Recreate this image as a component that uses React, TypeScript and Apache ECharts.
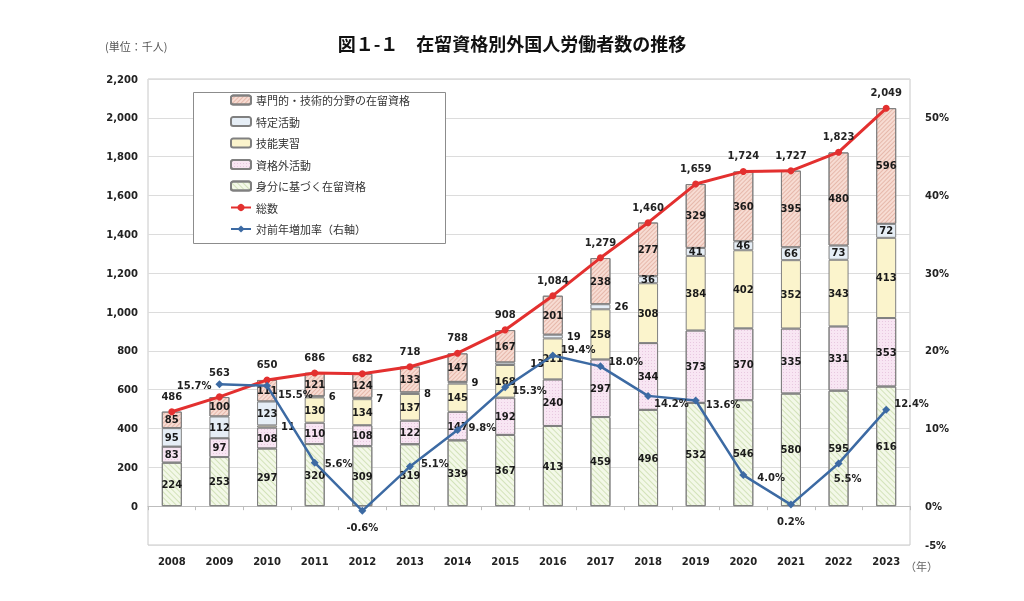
import React, { useEffect, useRef } from "react";
import * as echarts from "echarts";

const years = ["2008","2009","2010","2011","2012","2013","2014","2015","2016","2017","2018","2019","2020","2021","2022","2023"];
const mibun = [224,253,297,320,309,319,339,367,413,459,496,532,546,580,595,616];
const shikakugai = [83,97,108,110,108,122,147,192,240,297,344,373,370,335,331,353];
const ginou = [0,0,11,130,134,137,145,168,211,258,308,384,402,352,343,413];
const tokutei = [95,112,123,6,7,8,9,13,19,26,36,41,46,66,73,72];
const senmon = [85,100,111,121,124,133,147,167,201,238,277,329,360,395,480,596];
const totals = [486,563,650,686,682,718,788,908,1084,1279,1460,1659,1724,1727,1823,2049];
const growth = [null,15.7,15.5,5.6,-0.6,5.1,9.8,15.3,19.4,18.0,14.2,13.6,4.0,0.2,5.5,12.4];
const leftTicks = { min: -200, max: 2200, interval: 200 };
const rightTicks = { min: -5, max: 55, interval: 5 };

const NUM_FONT = "'DejaVu Sans', Verdana, sans-serif";
const JP_FONT = "'Noto Sans CJK JP', sans-serif";
const NUM_SIZE = 10;

const fmtComma = (v: number) => v.toLocaleString("en-US");

// label placement per growth point (style only)
const growthLabelStyle: any[] = [
  null,
  { position: "left", distance: 4, offset: [0, 1] },
  { position: "right", distance: 7, offset: [0, 9] },
  { position: "right", distance: 6, offset: [0, 1] },
  { position: "bottom", distance: 6, offset: [0, 2] },
  { position: "right", distance: 7, offset: [0, -3] },
  { position: "right", distance: 7, offset: [0, -3] },
  { position: "right", distance: 3, offset: [0, 3] },
  { position: "right", distance: 4, offset: [0, -6] },
  { position: "right", distance: 4, offset: [0, -5] },
  { position: "right", distance: 2, offset: [0, 8] },
  { position: "right", distance: 6, offset: [0, 4] },
  { position: "right", distance: 10, offset: [0, 2] },
  { position: "bottom", distance: 6, offset: [0, 2] },
  { position: "bottom", distance: 6, offset: [9, 0] },
  { position: "right", distance: 4, offset: [0, -6] },
];
const totalLabelOffset: number[] = [0,-9,0,0,0,0,0,0,0,0,0,0,0,0,0,0];
const smallLabelDistance: Record<number, number> = { 7: 15 };

export default function App() {
  const ref = useRef<HTMLDivElement>(null);
  useEffect(() => {
    if (!ref.current) return;
    const chart = echarts.init(ref.current, null, { renderer: "svg" });

    const numText = {
      fontFamily: NUM_FONT,
      fontWeight: "bold",
      fontSize: NUM_SIZE,
      color: "#1a1a1a",
    };
    const barLabel = {
      show: true,
      position: "inside",
      ...numText,
      formatter: (p: any) => (p.value ? String(p.value) : ""),
    };
    const border = { borderColor: "#808080", borderWidth: 1 };
    const smallOut = (arr: number[], limit: number) =>
      arr.map((v, i) =>
        v > 0 && v < limit
          ? {
              value: v,
              label: { position: "right", distance: smallLabelDistance[i] ?? 4 },
            }
          : v
      );

    const barCommon = {
      type: "bar",
      stack: "total",
      barWidth: "42%",
      label: barLabel,
    };

    const option: any = {
      animation: false,
      textStyle: { fontFamily: NUM_FONT },
      title: {
        text: "図１-１　在留資格別外国人労働者数の推移",
        left: "center",
        top: 29,
        textStyle: { fontFamily: JP_FONT, fontWeight: "bold", fontSize: 18, color: "#111" },
      },
      graphic: [
        {
          type: "text",
          left: 105,
          top: 40,
          style: { text: "(単位：千人)", font: `11px ${JP_FONT}`, fill: "#555" },
        },
        {
          type: "text",
          left: 905,
          top: 560,
          style: { text: "（年）", font: `11px ${JP_FONT}`, fill: "#666" },
        },
        {
          type: "rect",
          z: 3,
          shape: { x: 193.5, y: 92.5, width: 252, height: 151 },
          style: { fill: "#fff", stroke: "#8c8c8c", lineWidth: 1 },
        },
      ],
      legend: {
        orient: "vertical",
        left: 225,
        top: 88,
        z: 5,
        itemWidth: 20,
        itemHeight: 9,
        itemGap: 7.5,
        textStyle: { fontFamily: JP_FONT, fontSize: 11, color: "#333", lineHeight: 14 },
        data: [
          "専門的・技術的分野の在留資格",
          "特定活動",
          "技能実習",
          "資格外活動",
          "身分に基づく在留資格",
          "総数",
          "対前年増加率（右軸）",
        ],
      },
      grid: {
        left: 148,
        right: 114,
        top: 79,
        bottom: 56,
        show: true,
        borderColor: "#c8c8c8",
        borderWidth: 1,
        containLabel: false,
      },
      xAxis: [
        {
          type: "category",
          data: years,
          position: "bottom",
          axisLine: { show: false, onZero: false },
          axisTick: { show: false },
          axisLabel: { ...numText, color: "#222", margin: 11 },
        },
        {
          type: "category",
          data: years,
          position: "bottom",
          axisLine: { show: true, onZero: true, lineStyle: { color: "#bdbdbd" } },
          axisTick: { show: true, length: 4, lineStyle: { color: "#bdbdbd" } },
          axisLabel: { show: false },
        },
      ],
      yAxis: [
        {
          type: "value",
          ...leftTicks,
          axisLine: { show: false },
          axisTick: { show: false },
          splitLine: { lineStyle: { color: "#dcdcdc" } },
          axisLabel: {
            ...numText,
            color: "#222",
            margin: 10,
            formatter: (v: number) => (v < 0 ? "" : fmtComma(v)),
          },
        },
        {
          type: "value",
          ...rightTicks,
          axisLine: { show: false },
          axisTick: { show: false },
          splitLine: { show: false },
          axisLabel: {
            ...numText,
            color: "#222",
            margin: 15,
            formatter: (v: number) =>
              v === -5 || (v >= 0 && v <= 50 && v % 10 === 0) ? v + "%" : "",
          },
        },
      ],
      series: [
        {
          ...barCommon,
          name: "身分に基づく在留資格",
          data: mibun,
          itemStyle: {
            color: "#f3f8e8",
            ...border,
            decal: {
              symbol: "rect",
              symbolSize: 1,
              color: "rgba(180,205,140,0.5)",
              dashArrayX: [1, 0],
              dashArrayY: [1, 3],
              rotation: Math.PI / 4,
            },
          },
        },
        {
          ...barCommon,
          name: "資格外活動",
          data: shikakugai,
          itemStyle: {
            color: "#f8e6f3",
            ...border,
            decal: {
              symbol: "rect",
              symbolSize: 1,
              color: "rgba(215,170,205,0.5)",
              dashArrayX: [1, 2],
              dashArrayY: [1, 2],
              rotation: 0,
            },
          },
        },
        {
          ...barCommon,
          name: "技能実習",
          data: smallOut(ginou, 30),
          itemStyle: { color: "#fbf4cc", ...border },
        },
        {
          ...barCommon,
          name: "特定活動",
          data: smallOut(tokutei, 30),
          itemStyle: { color: "#e6eef6", ...border },
        },
        {
          ...barCommon,
          name: "専門的・技術的分野の在留資格",
          data: senmon,
          itemStyle: {
            color: "#f7dcd3",
            ...border,
            decal: {
              symbol: "rect",
              symbolSize: 1,
              color: "rgba(205,130,110,0.4)",
              dashArrayX: [1, 0],
              dashArrayY: [1, 2],
              rotation: -Math.PI / 4,
            },
          },
        },
        {
          name: "総数",
          type: "line",
          data: totals.map((v, i) =>
            totalLabelOffset[i] ? { value: v, label: { offset: [0, totalLabelOffset[i]] } } : v
          ),
          z: 5,
          symbol: "circle",
          symbolSize: 7,
          lineStyle: { color: "#e3302f", width: 3 },
          itemStyle: { color: "#e3302f" },
          label: {
            show: true,
            position: "top",
            distance: 7,
            ...numText,
            color: "#222",
            formatter: (p: any) => fmtComma(p.value),
          },
        },
        {
          name: "対前年増加率（右軸）",
          type: "line",
          yAxisIndex: 1,
          z: 6,
          data: growth.map((v, i) =>
            v === null ? null : { value: v, label: growthLabelStyle[i] }
          ),
          symbol: "diamond",
          symbolSize: 8,
          lineStyle: { color: "#3c6aa3", width: 2.5 },
          itemStyle: { color: "#3c6aa3" },
          label: {
            show: true,
            ...numText,
            color: "#222",
            formatter: (p: any) => Number(p.value).toFixed(1) + "%",
          },
        },
      ],
    };
    chart.setOption(option);
    return () => chart.dispose();
  }, []);
  return (
    <div
      ref={ref}
      style={{ position: "fixed", left: 0, top: 0, width: 1024, height: 601 }}
    />
  );
}
